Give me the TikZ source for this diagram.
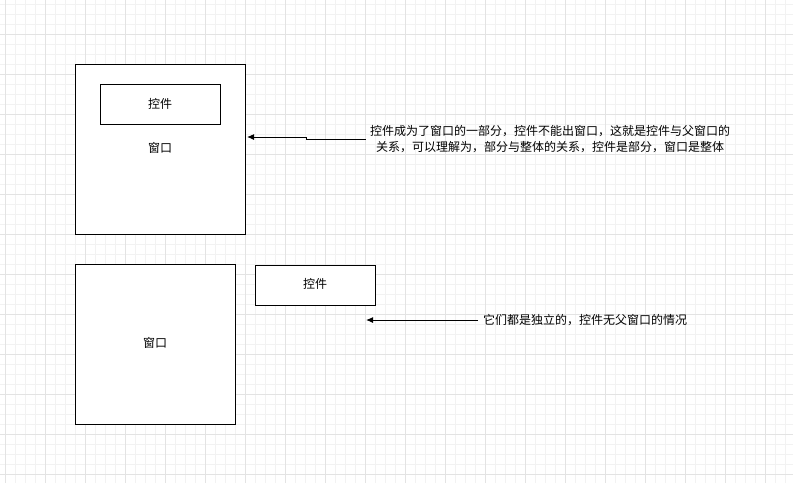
\documentclass[tikz,border=0pt]{standalone}
\usepackage{fontspec}
\newfontfamily\cjk{Noto Sans CJK SC}
\usetikzlibrary{arrows.meta}
\begin{document}
\begin{tikzpicture}[x=1pt,y=-1pt,
  box/.style={draw=black,line width=1pt,fill=white,inner sep=0pt},
  lbl/.style={font=\cjk\fontsize{12}{16}\selectfont,inner sep=0pt,align=center},
  arr/.style={draw=black,line width=1pt,-{Latex[length=7pt,width=6pt]}}]
\useasboundingbox (0,0) rectangle (793,483);
\fill[white] (0,0) rectangle (793,483);
% grid
\foreach \x in {5,15,...,793} \draw[color=black!5,line width=0.8pt] (\x,0) -- (\x,483);
\foreach \y in {4,14,...,483} \draw[color=black!5,line width=0.8pt] (0,\y) -- (793,\y);
\foreach \x in {5,45,...,793} \draw[color=black!11,line width=0.8pt] (\x,0) -- (\x,483);
\foreach \y in {34,74,...,483} \draw[color=black!11,line width=0.8pt] (0,\y) -- (793,\y);
% boxes
\node[box,minimum width=170pt,minimum height=170pt] (b1) at (160,149) {};
\node[box,minimum width=120pt,minimum height=40pt] (c1) at (160,104) {};
\node[lbl] (c1t) at (160,104) {控件};
\node[lbl] (w1t) at (160,148) {窗口};
\node[box,minimum width=160pt,minimum height=160pt] (b2) at (155,344) {};
\node[lbl] (w2t) at (155,343) {窗口};
\node[box,minimum width=120pt,minimum height=40pt] (c2) at (315,285) {};
\node[lbl] (c2t) at (315,284) {控件};
% texts
\node[lbl] (t1) at (550,139) {控件成为了窗口的一部分，控件不能出窗口，这就是控件与父窗口的\\关系，可以理解为，部分与整体的关系，控件是部分，窗口是整体};
\node[lbl,anchor=west] (t2) at (483,320) {它们都是独立的，控件无父窗口的情况};
% connectors
\coordinate (e1) at (247,137);
\coordinate (e2) at (366,320);
\draw[arr] ([xshift=-4pt]t1.west) -- (306,139) -- (306,137) -- (e1);
\draw[arr] ([xshift=-5pt]t2.west) -- (e2);
\end{tikzpicture}
\end{document}
